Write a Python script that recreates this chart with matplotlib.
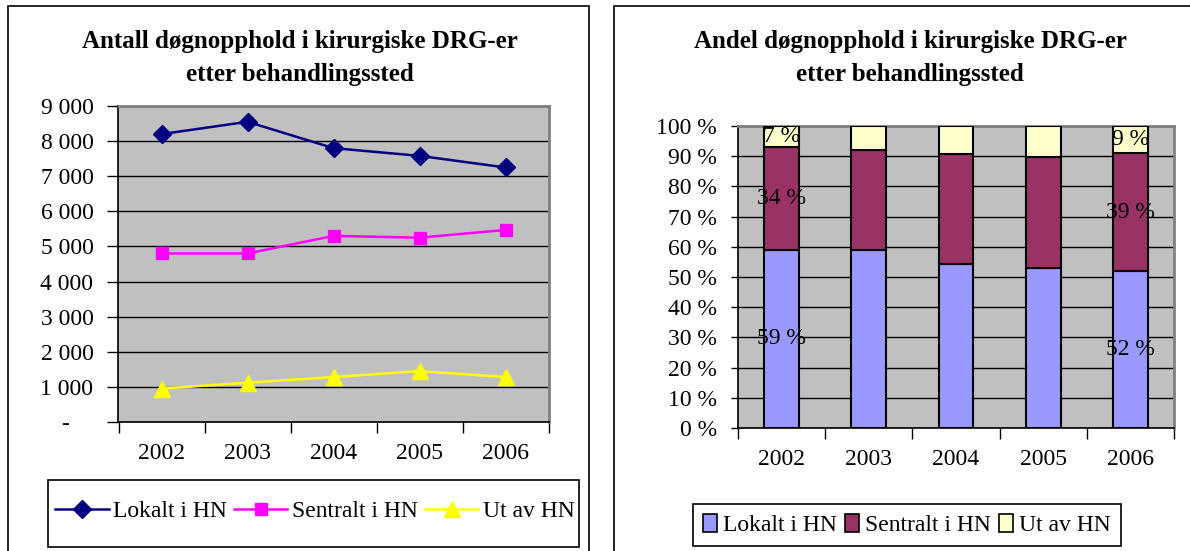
import matplotlib
matplotlib.use("Agg")
import matplotlib.pyplot as plt
from matplotlib.patches import Rectangle
from matplotlib.lines import Line2D
from matplotlib.patches import Patch

plt.rcParams["font.family"] = ["Liberation Serif", "DejaVu Serif"]

# ── data ─────────────────────────────────────────────────────────────────
years = ["2002", "2003", "2004", "2005", "2006"]
series_names = ["Lokalt i HN", "Sentralt i HN", "Ut av HN"]

# antall døgnopphold (left chart)
lokalt = [8200, 8550, 7800, 7580, 7250]
sentralt = [4800, 4800, 5300, 5250, 5470]
ut_av = [950, 1120, 1280, 1450, 1280]

count_ticks = [0, 1000, 2000, 3000, 4000, 5000, 6000, 7000, 8000, 9000]
# Excel accounting format: zero is a dash set in from the right edge
count_tick_labels = ["-\u2007\u2007", "1 000", "2 000", "3 000", "4 000", "5 000",
                     "6 000", "7 000", "8 000", "9 000"]

# andel i prosent (right chart)
pct_lokalt = [59, 59, 54.3, 53, 52]
pct_sentralt = [34, 33, 36.4, 36.8, 39]
pct_ut = [7, 8, 9.3, 10.2, 9]

pct_ticks = [0, 10, 20, 30, 40, 50, 60, 70, 80, 90, 100]
pct_tick_labels = [f"{t} %" for t in pct_ticks]

# labels shown on bars: (year index, series index, text)
bar_labels = [(0, 0, "59 %"), (0, 1, "34 %"), (0, 2, "7 %"),
              (4, 0, "52 %"), (4, 1, "39 %"), (4, 2, "9 %")]

W, H = 1190, 551
FS = 17
TITLE_FS = 18


def px_axes(fig, x0, y0, x1, y1):
    # pixel box (top-left origin) -> axes
    return fig.add_axes([x0 / W, 1 - y1 / H, (x1 - x0) / W, (y1 - y0) / H])


def px_rect(x0, y0, x1, y1, **kw):
    return Rectangle((x0 / W, 1 - y1 / H), (x1 - x0) / W, (y1 - y0) / H,
                     transform=fig.transFigure, fill=False, edgecolor="black", **kw)


def excel_style(ax, n, ytick_len):
    ax.set_facecolor("#C0C0C0")
    ax.set_xlim(-0.5, n - 0.5)
    ax.set_xticks([i - 0.5 for i in range(n + 1)])
    ax.set_xticklabels([])
    ax.set_xticks(range(n), minor=True)
    ax.set_xticklabels(years, minor=True)
    ax.tick_params(axis="x", which="major", length=8, width=1, direction="out")
    ax.tick_params(axis="x", which="minor", length=0, pad=15, labelsize=FS)
    ax.tick_params(axis="y", length=ytick_len, width=1, direction="out",
                   pad=10, labelsize=FS)
    ax.grid(True, axis="y", color="black", linewidth=1)
    ax.set_axisbelow(True)
    for s in ("top", "right"):
        ax.spines[s].set_color("#808080")
        ax.spines[s].set_linewidth(2)
    for s in ("left", "bottom"):
        ax.spines[s].set_color("black")
        ax.spines[s].set_linewidth(1.2)


fig = plt.figure(figsize=(W / 100, H / 100), dpi=100)

# outer chart frames
fig.patches.append(px_rect(8, 6, 589, 600, linewidth=1.2))
fig.patches.append(px_rect(614, 6, 1250, 600, linewidth=1.2))

# ── left: line chart ─────────────────────────────────────────────────────
ax1 = px_axes(fig, 118.5, 106, 548.5, 422)
excel_style(ax1, len(years), 8)
x = range(len(years))
ax1.plot(x, lokalt, color="#000080", marker="D", markersize=9, linewidth=1.8)
ax1.plot(x, sentralt, color="#FF00FF", marker="s", markersize=9, linewidth=1.8)
ax1.plot(x, ut_av, color="#FFFF00", marker="^", markersize=11, linewidth=1.8)
ax1.set_ylim(0, 9000)
ax1.set_yticks(count_ticks)
ax1.set_yticklabels(count_tick_labels)

fig.text(300 / W, 1 - 41 / H, "Antall døgnopphold i kirurgiske DRG-er",
         ha="center", va="center", fontsize=TITLE_FS, fontweight="bold")
fig.text(300 / W, 1 - 75 / H, "etter behandlingssted",
         ha="center", va="center", fontsize=TITLE_FS, fontweight="bold")

line_handles = [
    Line2D([], [], color="#000080", marker="D", markersize=9, linewidth=1.8),
    Line2D([], [], color="#FF00FF", marker="s", markersize=9, linewidth=1.8),
    Line2D([], [], color="#FFFF00", marker="^", markersize=11, linewidth=1.8),
]
fig.legend(line_handles, series_names, ncol=3, loc="center",
           bbox_to_anchor=(315 / W, 1 - 511 / H), fontsize=FS,
           frameon=False, handlelength=2.25, handletextpad=0.2,
           columnspacing=0.3, borderpad=0.2, borderaxespad=0)
# legend box drawn separately (Excel pads vertically much more than sideways)
fig.patches.append(px_rect(48, 480, 579, 547, linewidth=1.2))

# ── right: 100 % stacked bars ────────────────────────────────────────────
ax2 = px_axes(fig, 738, 126, 1174, 428)
excel_style(ax2, len(years), 5)
colors = ["#9999FF", "#993366", "#FFFFCC"]
stacks = [pct_lokalt, pct_sentralt, pct_ut]
bottoms = [0] * len(years)
bars = []
for vals, c in zip(stacks, colors):
    ax2.bar(x, vals, bottom=bottoms, width=0.4, color=c,
            edgecolor="black", linewidth=1.5, zorder=3)
    bars.append((list(bottoms), vals))
    bottoms = [bo + v for bo, v in zip(bottoms, vals)]
ax2.set_ylim(0, 100)
ax2.set_yticks(pct_ticks)
ax2.set_yticklabels(pct_tick_labels)

for yi, si, txt in bar_labels:
    bo, vals = bars[si]
    ax2.text(yi, bo[yi] + vals[yi] / 2, txt, ha="center", va="center",
             fontsize=FS, zorder=4)

fig.text(910 / W, 1 - 41 / H, "Andel døgnopphold i kirurgiske DRG-er",
         ha="center", va="center", fontsize=TITLE_FS, fontweight="bold")
fig.text(910 / W, 1 - 75 / H, "etter behandlingssted",
         ha="center", va="center", fontsize=TITLE_FS, fontweight="bold")

bar_handles = [Patch(facecolor=c, edgecolor="black", linewidth=1.2) for c in colors]
leg2 = fig.legend(bar_handles, series_names, ncol=3, loc="center",
                  bbox_to_anchor=(907 / W, 1 - 525 / H), fontsize=FS,
                  frameon=True, fancybox=False, edgecolor="black", framealpha=1,
                  handlelength=0.6, handleheight=0.8, handletextpad=0.25,
                  columnspacing=0.35, borderpad=0.4, borderaxespad=0)
leg2.get_frame().set_linewidth(1.2)

fig.savefig("out.png", dpi=100)
